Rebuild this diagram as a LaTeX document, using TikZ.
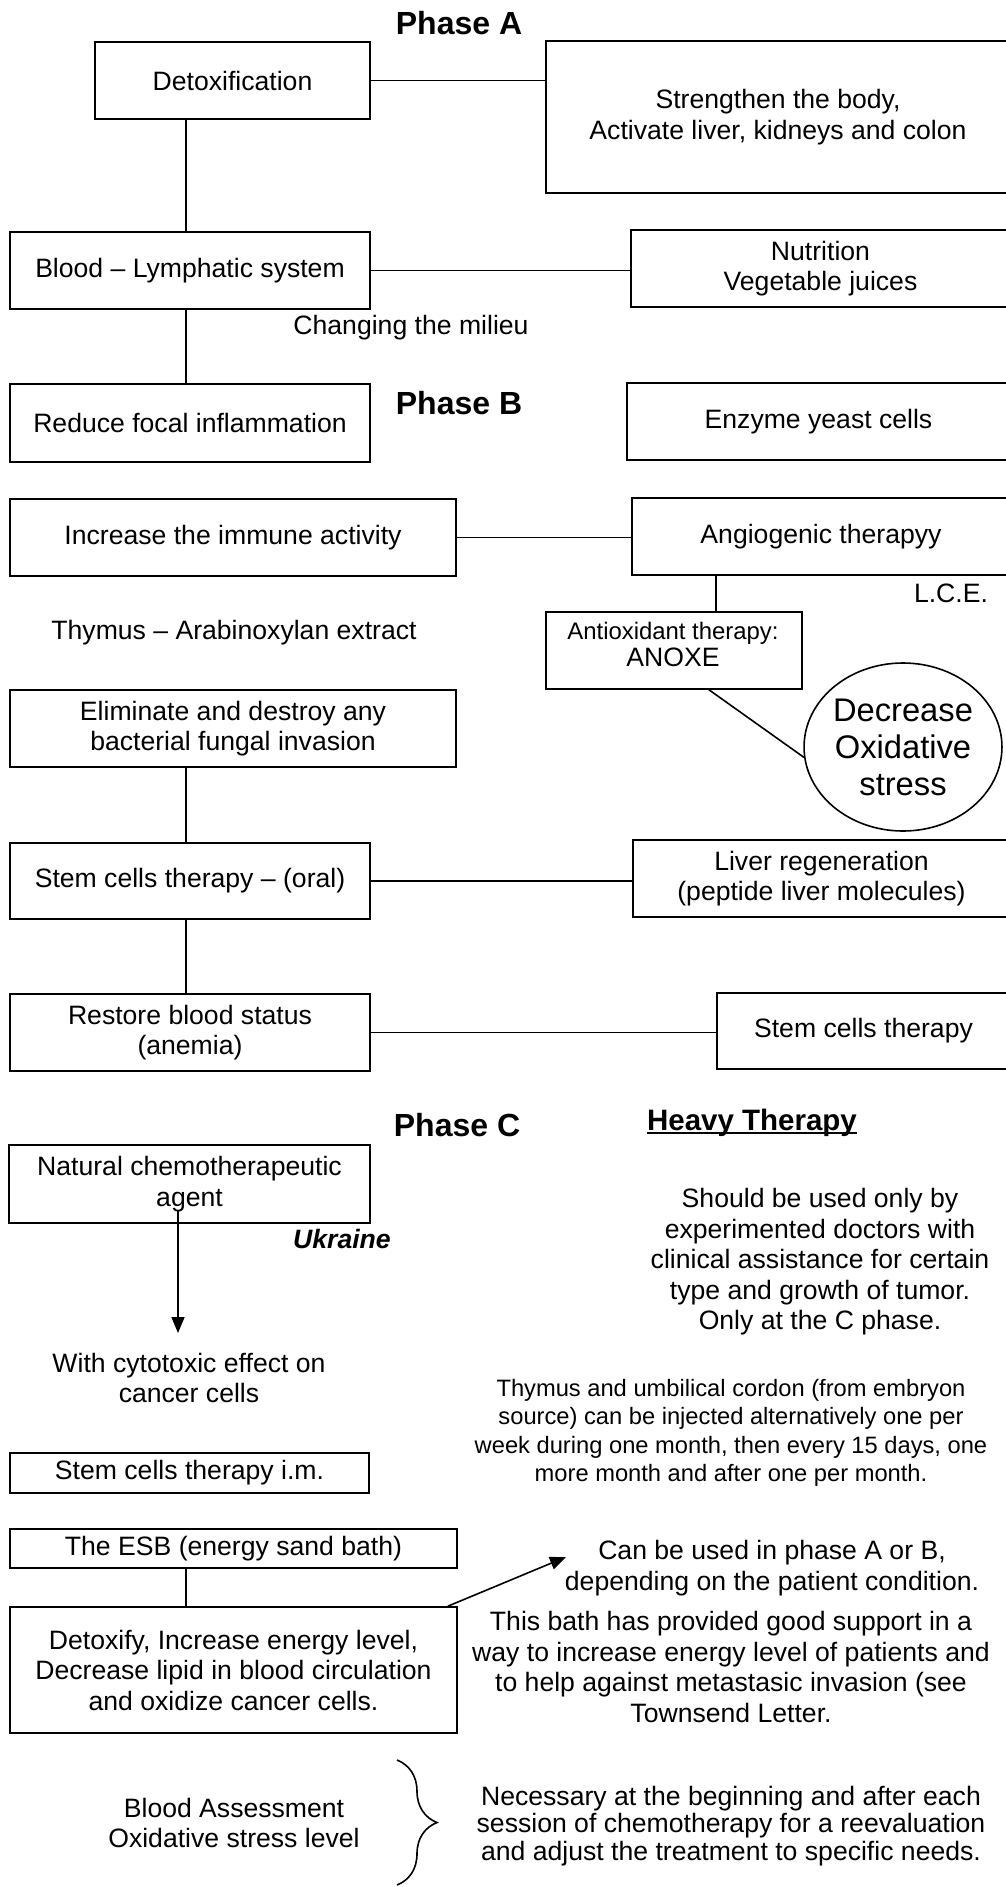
\documentclass[tikz,border=0pt]{standalone}
\usepackage{fontspec}
\setmainfont{Liberation Sans}
\usetikzlibrary{shapes.geometric,arrows.meta,decorations.pathreplacing}
\newcommand\fsMain{\fontsize{26.6}{30.5}\selectfont}
\newcommand\fsSmall{\fontsize{23.7}{28.5}\selectfont}
\newcommand\fsNec{\fontsize{26.6}{27.5}\selectfont}
\newcommand\fsAnt{\fontsize{23.9}{27}\selectfont}
\newcommand\fsEll{\fontsize{32.7}{37}\selectfont}
\newcommand\fsPhase{\fontsize{32}{36}\selectfont\bfseries}
\newcommand\fsHeavy{\fontsize{29.5}{33}\selectfont\bfseries}
\begin{document}
\begin{tikzpicture}[x=1pt,y=-1pt,
  bx/.style={draw,line width=1.6pt,rectangle,inner sep=0pt,align=center,font=\fsMain},
  txt/.style={inner sep=0pt,align=center,font=\fsMain},
  phasetitle/.style={inner sep=0pt,font=\fsPhase},
  conn/.style={line width=1.6pt},
  arr/.style={line width=1.6pt,-{Triangle[length=16pt,width=13pt]}}]
\clip (0,0) rectangle (1006,1887);
\fill[white] (0,0) rectangle (1006,1887);
% spines
\coordinate (spine) at (186,0);
\coordinate (angspine) at (716,0);
\coordinate (antispine) at (709,0);
% titles
\node[phasetitle] (pa) at (459,23) {Phase A};
\node[phasetitle] (pb) at (459,403) {Phase B};
\node[phasetitle] (pc) at (457,1125) {Phase C};
\node[inner sep=0pt,font=\fsHeavy] (heavy) at (752,1123) {Heavy Therapy};
\draw[line width=2.4pt] ([yshift=-2.5pt]heavy.base west) -- ([yshift=-2.5pt]heavy.base east);
% boxes
\node[bx,minimum width=275pt,minimum height=77pt] (detox) at (232.5,80.5) {Detoxification};
\node[bx,minimum width=464pt,minimum height=152pt] (strength) at (778,117) {Strengthen the body,\\Activate liver, kidneys and colon};
\node[bx,minimum width=360pt,minimum height=77pt] (blood) at (190,270.5) {Blood – Lymphatic system};
\node[bx,minimum width=379pt,minimum height=77pt] (nutri) at (820.5,268.5) {Nutrition\\Vegetable juices};
\node[bx,minimum width=360pt,minimum height=78pt] (reduce) at (190,423) {Reduce focal inflammation};
\node[bx,minimum width=383pt,minimum height=77pt] (enzyme) at (818.5,421.5) {Enzyme yeast cells};
\node[bx,minimum width=446pt,minimum height=77pt] (immune) at (233,537.5) {Increase the immune activity};
\node[bx,minimum width=378pt,minimum height=77pt] (angio) at (821,536.5) {Angiogenic therapyy};
\node[bx,minimum width=256pt,minimum height=77pt] (antiox) at (674,650.5) {};
\node[txt,font=\fsAnt] (antioxt) at (673,644) {Antioxidant therapy:\\{\fontsize{26.6}{27}\selectfont ANOXE}};
\node[draw,line width=1.6pt,ellipse,minimum width=196pt,minimum height=168pt,inner sep=0pt,align=center,font=\fsEll] (ell) at (903,747) {Decrease\\Oxidative\\stress};
\node[bx,minimum width=446pt,minimum height=77pt] (elim) at (233,728.5) {Eliminate and destroy any\\bacterial fungal invasion};
\node[bx,minimum width=360pt,minimum height=76pt] (stemoral) at (190,881) {Stem cells therapy – (oral)};
\node[bx,minimum width=377pt,minimum height=77pt] (liver) at (821.5,878.5) {Liver regeneration\\(peptide liver molecules)};
\node[bx,minimum width=360pt,minimum height=77pt] (restore) at (190,1032.5) {Restore blood status\\(anemia)};
\node[bx,minimum width=293pt,minimum height=76pt] (stemr) at (863.5,1031) {Stem cells therapy};
\node[bx,minimum width=361pt,minimum height=78pt] (natural) at (189.5,1184) {Natural chemotherapeutic\\agent};
\node[bx,minimum width=359pt,minimum height=40pt] (stemim) at (189.5,1473) {Stem cells therapy i.m.};
\node[bx,minimum width=447pt,minimum height=39pt] (esb) at (233.5,1548.5) {The ESB (energy sand bath)};
\node[bx,minimum width=447pt,minimum height=126pt] (detoxify) at (233.5,1670) {Detoxify, Increase energy level,\\Decrease lipid in blood circulation\\and oxidize cancer cells.};
% free texts
\node[txt] (milieu) at (411,328) {Changing the milieu};
\node[txt] (lce) at (951,593) {L.C.E.};
\node[txt] (thymus) at (234,633) {Thymus – Arabinoxylan extract};
\node[txt,font=\fsMain\bfseries\itshape] (ukr) at (342,1239) {Ukraine};
\node[txt] (cyto) at (189,1378) {With cytotoxic effect on\\cancer cells};
\node[txt] (should) at (820,1262) {Should be used only by\\experimented doctors with\\clinical assistance for certain\\type and growth of tumor.\\Only at the C phase.};
\node[txt,font=\fsSmall] (inject) at (731,1433) {Thymus and umbilical cordon (from embryon\\source) can be injected alternatively one per\\week during one month, then every 15 days, one\\more month and after one per month.};
\node[txt] (canbe) at (772,1568) {Can be used in phase A or B,\\depending on the patient condition.};
\node[txt] (bath) at (731,1667) {This bath has provided good support in a\\way to increase energy level of patients and\\to help against metastasic invasion (see\\Townsend Letter.};
\node[txt] (assess) at (234,1823) {Blood Assessment\\Oxidative stress level};
\node[txt,font=\fsNec] (necess) at (731,1826) {Necessary at the beginning and after each\\session of chemotherapy for a reevaluation\\and adjust the treatment to specific needs.};
% connectors
\draw[conn] (detox.east) -- (detox.east -| strength.west);
\draw[conn] (detox.south -| spine) -- (blood.north -| spine);
\draw[conn] (blood.east) -- (blood.east -| nutri.west);
\draw[conn] (blood.south -| spine) -- (reduce.north -| spine);
\draw[conn] (immune.east) -- (immune.east -| angio.west);
\draw[conn] (angio.south -| angspine) -- (antiox.north -| angspine);
\draw[conn] (antiox.south -| antispine) -- (ell.186);
\draw[conn] (elim.south -| spine) -- (stemoral.north -| spine);
\draw[conn] (stemoral.east) -- (stemoral.east -| liver.west);
\draw[conn] (stemoral.south -| spine) -- (restore.north -| spine);
\draw[conn] (restore.east) -- (restore.east -| stemr.west);
\coordinate (nattip) at (178,1333);
\draw[arr] ([xshift=-11.5pt,yshift=13pt]natural.south) -- (nattip);
\draw[conn] (esb.south -| spine) -- (detoxify.north -| spine);
\coordinate (bathtip) at (566,1557);
\draw[arr] ([xshift=-10pt]detoxify.north east) -- (bathtip);
% brace
\coordinate (brtop) at (397,1760);
\coordinate (brbot) at (397,1885);
\draw[line width=1.6pt,decorate,decoration={brace,amplitude=40pt}] (brtop) -- (brbot);
\end{tikzpicture}
\end{document}
